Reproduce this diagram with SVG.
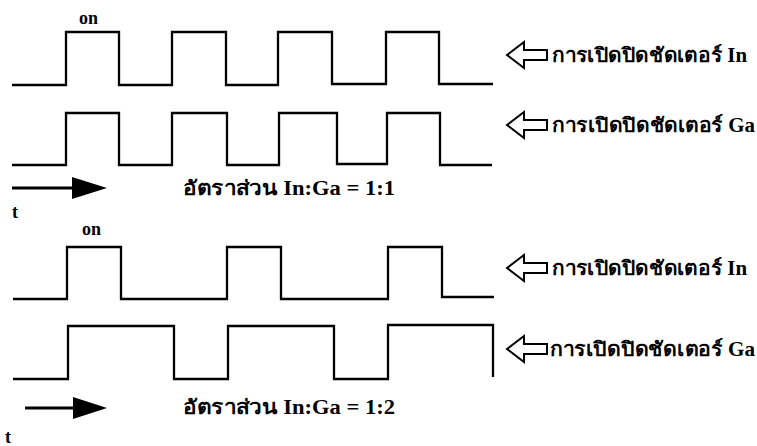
<svg xmlns="http://www.w3.org/2000/svg" width="757" height="446" viewBox="0 0 757 446">
<defs>
<style>
.wave{fill:none;stroke:#000;stroke-width:2.3;stroke-linejoin:miter}
.tarrow{stroke:#000;stroke-width:3}
.head{fill:#000}
.hollow{fill:#fff;stroke:#000;stroke-width:2;stroke-linejoin:miter}
.lbl{font-family:"Liberation Serif","Noto Sans",serif;font-weight:bold;font-size:18px;fill:#000}
.th{font-family:"Liberation Serif","Noto Sans",serif;font-weight:bold;font-size:20px;fill:#000}
</style>
<polygon id="hollowArrow" class="hollow" points="0,0 17,-13 17,-5 40,-5 40,5 17,5 17,13"/>
</defs>
<rect width="757" height="446" fill="#fff"/>
<g id="connectors">
<g id="wave-in-1"><polyline class="wave" points="12,85 66,85 66,32 119,32 119,85 172,85 172,32 226,32 226,85 278,85 278,32 332,32 332,84 386,84 386,32 439,32 439,84 493,84"/></g>
<g id="wave-ga-1"><polyline class="wave" points="12,165 66,165 66,113 119,113 119,165 172,165 172,113 227,113 227,165 279,165 279,113 337,113 337,164 387,164 387,113 440,113 440,165 492,165"/></g>
<g id="time-arrow-1"><line class="tarrow" x1="12" y1="188" x2="80" y2="188"/><polygon class="head" points="72,177 107,188 72,199"/></g>
<g id="wave-in-2"><polyline class="wave" points="13,299 67,299 67,247 121,247 121,299 227,299 227,247 281,247 281,299 388,299 388,247 442,247 442,297 494,297"/></g>
<g id="wave-ga-2"><polyline class="wave" points="13,379 68,379 68,326 174,326 174,379 228,379 228,326 334,326 334,379 388,379 388,325 493,325 493,377"/></g>
<g id="time-arrow-2"><line class="tarrow" x1="25" y1="408" x2="80" y2="408"/><polygon class="head" points="73,397 107,408 73,419"/></g>
</g>
<g id="labels-1">
<text class="lbl" x="79" y="24">on</text>
<text class="th" x="183" y="195" textLength="212" lengthAdjust="spacingAndGlyphs">อัตราส่วน In:Ga = 1:1</text>
<text class="lbl" x="12" y="218">t</text>
</g>
<g id="labels-2">
<text class="lbl" x="82" y="235">on</text>
<text class="th" x="183" y="414" textLength="212" lengthAdjust="spacingAndGlyphs">อัตราส่วน In:Ga = 1:2</text>
<text class="lbl" x="5" y="443">t</text>
</g>
<g id="legend-in-1"><use href="#hollowArrow" x="507" y="55"/><text class="th" x="552" y="62" textLength="195" lengthAdjust="spacingAndGlyphs">การเปิดปิดชัดเตอร์ In</text></g>
<g id="legend-ga-1"><use href="#hollowArrow" x="507" y="125"/><text class="th" x="552" y="132" textLength="203" lengthAdjust="spacingAndGlyphs">การเปิดปิดชัดเตอร์ Ga</text></g>
<g id="legend-in-2"><use href="#hollowArrow" x="507" y="268"/><text class="th" x="552" y="275" textLength="195" lengthAdjust="spacingAndGlyphs">การเปิดปิดชัดเตอร์ In</text></g>
<g id="legend-ga-2"><use href="#hollowArrow" x="507" y="349"/><text class="th" x="550" y="356" textLength="205" lengthAdjust="spacingAndGlyphs">การเปิดปิดชัดเตอร์ Ga</text></g>
</svg>
